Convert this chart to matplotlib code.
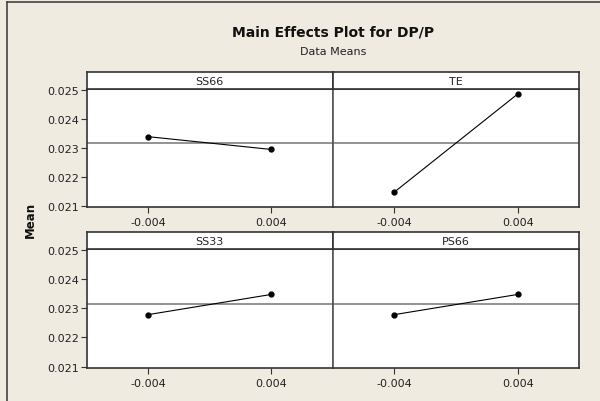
import matplotlib
import matplotlib.pyplot as plt
from matplotlib.lines import Line2D

matplotlib.use("Agg")

# factor levels and the mean response at each level
levels = [-0.004, 0.004]
factors = ["SS66", "TE", "SS33", "PS66"]
means = {
    "SS66": [0.02338, 0.02294],
    "TE": [0.02147, 0.02485],
    "SS33": [0.02278, 0.02347],
    "PS66": [0.02278, 0.02347],
}
grand_mean = 0.023145
yticks = [0.021, 0.022, 0.023, 0.024, 0.025]
xticks = [-0.004, 0.004]

bg = "#efebe1"
frame = "#333333"

plt.rcParams["font.family"] = ["DejaVu Sans"]

fig = plt.figure(figsize=(6.0, 4.02), dpi=100, facecolor=bg)

W, H = 600.0, 402.0
x_edges = [86.7, 332.7, 579.3]
rows = [(73, 90, 208), (233, 250, 369)]  # strip top, data top, data bottom (px)

for r, (s_top, d_top, d_bot) in enumerate(rows):
    for c in range(2):
        name = factors[r * 2 + c]
        x0 = x_edges[c] / W
        w = (x_edges[c + 1] - x_edges[c]) / W
        ax = fig.add_axes([x0, 1 - d_bot / H, w, (d_bot - d_top) / H])
        ax.set_facecolor("white")
        ax.axhline(grand_mean, color="#8a8a8a", lw=1.3, zorder=1)
        ax.plot(levels, means[name], color="black", lw=0.8, marker="o",
                ms=3.5, zorder=3)
        ax.set_xlim(-0.008, 0.008)
        ax.set_ylim(0.020955, 0.025024)
        ax.set_xticks(xticks)
        ax.set_xticklabels(["-0.004", "0.004"])
        ax.set_yticks(yticks)
        if c == 0:
            ax.set_yticklabels(["%.3f" % v for v in yticks])
            ax.tick_params(axis="y", length=4, width=0.8, pad=1.5,
                           labelsize=8, colors=frame, labelcolor="#222222")
        else:
            ax.tick_params(axis="y", left=False, labelleft=False)
        ax.tick_params(axis="x", length=4, width=0.8, pad=3,
                       labelsize=8, colors=frame, labelcolor="#222222")
        for sp in ax.spines.values():
            sp.set_color(frame)
            sp.set_linewidth(1.2)
        if c == 1:
            ax.spines["left"].set_color("#555555")
        else:
            ax.spines["right"].set_color("#555555")

        # strip with the factor name
        sx = fig.add_axes([x0, 1 - d_top / H, w, (d_top - s_top) / H])
        sx.set_facecolor("white")
        sx.set_xticks([])
        sx.set_yticks([])
        for sp in sx.spines.values():
            sp.set_color(frame)
            sp.set_linewidth(1.2)
        sx.text(0.5, 0.45, name, ha="center", va="center", fontsize=8,
                color="#222222", transform=sx.transAxes)

cx = (x_edges[0] + x_edges[2]) / 2 / W
fig.text(cx, 1 - 33 / H, "Main Effects Plot for DP/P", ha="center",
         va="center", fontsize=10, fontweight="bold", color="#111111")
fig.text(cx, 1 - 52 / H, "Data Means", ha="center", va="center",
         fontsize=8, color="#222222")
fig.text(30 / W, 1 - 220 / H, "Mean", rotation=90, ha="center", va="center",
         fontsize=8.5, fontweight="bold", color="#111111")

# outer frame on the left and top
fig.add_artist(Line2D([7 / W, 7 / W], [0, 1 - 3 / H], transform=fig.transFigure,
                      color="#444444", lw=1.2))
fig.add_artist(Line2D([7 / W, 1], [1 - 3 / H, 1 - 3 / H],
                      transform=fig.transFigure, color="#444444", lw=1.2))

fig.savefig("out.png", dpi=100, facecolor=bg)
